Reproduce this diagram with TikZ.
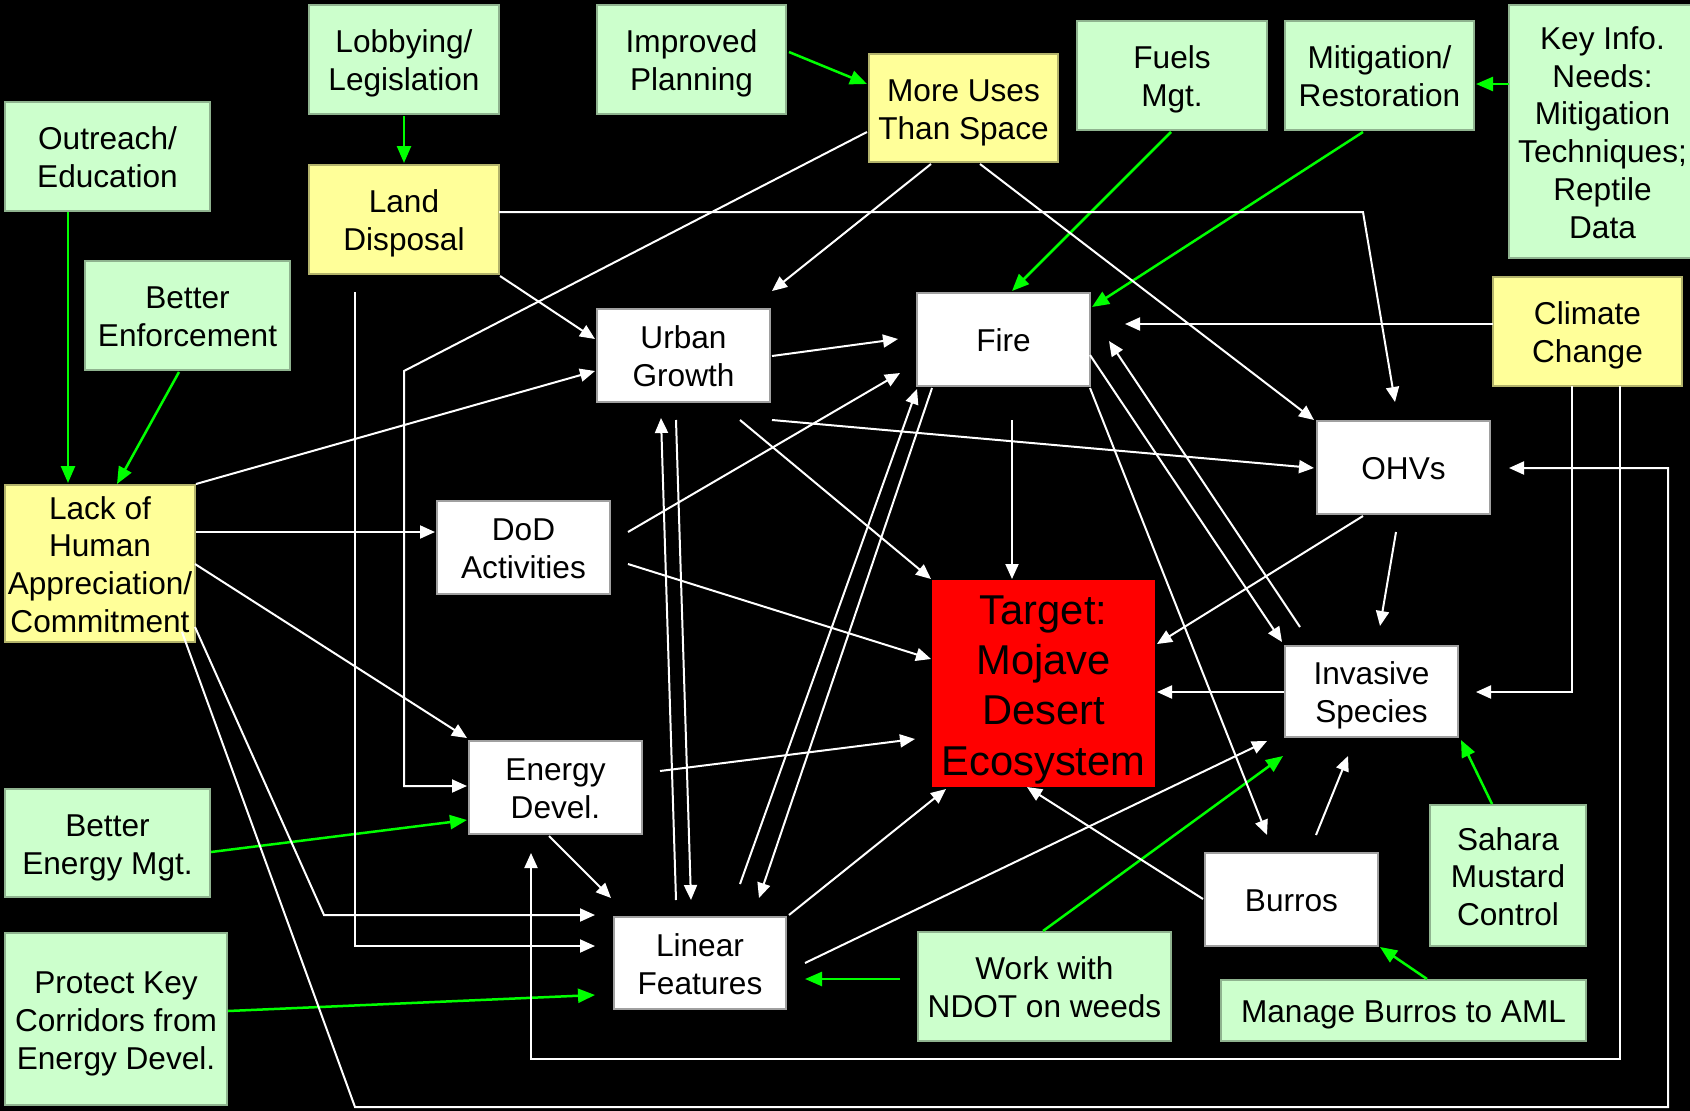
\documentclass[tikz,border=0pt]{standalone}
\usepackage{fontspec}
\setmainfont{Liberation Sans}
\usetikzlibrary{arrows.meta}
\definecolor{gfill}{HTML}{CCFFCC}
\definecolor{yfill}{HTML}{FFFF99}
\definecolor{rfill}{HTML}{FF0000}
\definecolor{garrow}{HTML}{00FF00}
\definecolor{gborder}{HTML}{8FB38F}
\definecolor{yborder}{HTML}{B3B36B}
\definecolor{wborder}{HTML}{A0A0A0}
\newcommand{\tstr}{\rule{0pt}{0.99em}}
\newcommand{\bstr}{\rule[-0.21em]{0pt}{0pt}}
\begin{document}
\begin{tikzpicture}[x=1pt,y=-1pt,
 base/.style={inner sep=0pt,outer sep=0pt,anchor=north west,align=center,line width=1.2pt,text=black,font=\fontsize{31.6}{37.8}\selectfont},
 gbox/.style={base,fill=gfill,draw=gborder},
 ybox/.style={base,fill=yfill,draw=yborder},
 wbox/.style={base,fill=white,draw=wborder,minimum width=173pt,minimum height=93pt},
 rbox/.style={base,fill=rfill,draw=rfill,font=\fontsize{41.7}{50.2}\selectfont},
 wa/.style={draw=white,line width=2pt,-{Triangle[length=15pt,width=13pt]}},
 ga/.style={draw=garrow,line width=2.5pt,-{Triangle[length=17pt,width=14pt]}}]
\fill[black] (0,0) rectangle (1690,1111);
\useasboundingbox (0,0) rectangle (1690,1111);

% nodes
\node[gbox,minimum width=190pt,minimum height=109pt] (lobby) at (309,5) {\tstr Lobbying/\\Legislation\bstr};
\node[gbox,minimum width=189pt,minimum height=109pt] (improved) at (597,5) {\tstr Improved\\Planning\bstr};
\node[gbox,minimum width=205pt,minimum height=109pt] (outreach) at (5,102) {\tstr Outreach/\\Education\bstr};
\node[ybox,minimum width=190pt,minimum height=109pt] (land) at (309,165) {\tstr Land\\Disposal\bstr};
\node[gbox,minimum width=205pt,minimum height=109pt] (enforce) at (85,261) {\tstr Better\\Enforcement\bstr};
\node[ybox,minimum width=189pt,minimum height=108pt] (moreuses) at (869,54) {\tstr More Uses\\Than Space\bstr};
\node[gbox,minimum width=190pt,minimum height=109pt] (fuels) at (1077,21) {\tstr Fuels\\Mgt.\bstr};
\node[gbox,minimum width=189pt,minimum height=109pt] (mitig) at (1285,21) {\tstr Mitigation/\\Restoration\bstr};
\node[gbox,minimum width=187pt,minimum height=253pt] (keyinfo) at (1509,5) {\tstr Key Info.\\Needs:\\Mitigation\\Techniques;\\Reptile\\Data\bstr};
\node[ybox,minimum width=189pt,minimum height=109pt] (climate) at (1493,277) {\tstr Climate\\Change\bstr};
\node[wbox] (urban) at (597,309) {\tstr Urban\\Growth\bstr};
\node[wbox] (fire) at (917,293) {\tstr Fire\bstr};
\node[wbox] (ohvs) at (1317,421) {\tstr OHVs\bstr};
\node[ybox,minimum width=190pt,minimum height=157pt] (lack) at (5,485) {\tstr Lack of\\Human\\Appreciation/\\Commitment\bstr};
\node[wbox] (dod) at (437,501) {\tstr DoD\\Activities\bstr};
\node[rbox,minimum width=221pt,minimum height=205pt] (target) at (933,581) {\tstr Target:\\Mojave\\Desert\\Ecosystem\bstr};
\node[wbox,minimum height=91pt] (invasive) at (1285,646) {\tstr Invasive\\Species\bstr};
\node[wbox] (energy) at (469,741) {\tstr Energy\\Devel.\bstr};
\node[gbox,minimum width=205pt,minimum height=108pt] (bettere) at (5,789) {\tstr Better\\Energy Mgt.\bstr};
\node[gbox,minimum width=156pt,minimum height=141pt] (sahara) at (1430,805) {\tstr Sahara\\Mustard\\Control\bstr};
\node[wbox] (burros) at (1205,853) {\tstr Burros\bstr};
\node[wbox,minimum width=172pt,minimum height=92pt] (linear) at (614,917) {\tstr Linear\\Features\bstr};
\node[gbox,minimum width=253pt,minimum height=109pt] (ndot) at (918,932) {\tstr Work with\\NDOT on weeds\bstr};
\node[gbox,minimum width=222pt,minimum height=172pt] (protect) at (5,933) {\tstr Protect Key\\Corridors from\\Energy Devel.\bstr};
\node[gbox,minimum width=365pt,minimum height=61pt] (manage) at (1221,980) {\tstr Manage Burros to AML\bstr};

% bend points
\coordinate (c1) at (404,371);
\coordinate (d1) at (1363,212);
\coordinate (j1) at (324,915);
\coordinate (k1) at (355,1107);
\coordinate (k2) at (1668,1107);
\coordinate (l1) at (1620,1059);

% green connectors
\draw[ga] ([shift={(0,2)}]lobby.south) -- ([shift={(0,-2)}]land.north);
\draw[ga] ([shift={(192,47)}]improved.north west) -- ([shift={(-2,30)}]moreuses.north west);
\draw[ga] ([shift={(63,110)}]outreach.north west) -- ([shift={(63,-2)}]lack.north west);
\draw[ga] ([shift={(94,111)}]enforce.north west) -- ([shift={(112,-1)}]lack.north west);
\draw[ga] ([shift={(94,111)}]fuels.north west) -- ([shift={(95,-2)}]fire.north west);
\draw[ga] ([shift={(78,111)}]mitig.north west) -- ([shift={(175,14)}]fire.north west);
\draw[ga] ([shift={(0,79)}]keyinfo.north west) -- ([shift={(191,63)}]mitig.north west);
\draw[ga] ([shift={(206,63)}]bettere.north west) -- ([shift={(-2,79)}]energy.north west);
\draw[ga] ([shift={(223,78)}]protect.north west) -- ([shift={(-19,78)}]linear.north west);
\draw[ga] ([shift={(-18,47)}]ndot.north west) -- ([shift={(191,62)}]linear.north west);
\draw[ga] ([shift={(125,-1)}]ndot.north west) -- ([shift={(-2,110)}]invasive.north west);
\draw[ga] ([shift={(206,-1)}]manage.north west) -- ([shift={(175,94)}]burros.north west);
\draw[ga] ([shift={(62,-1)}]sahara.north west) -- ([shift={(176,94)}]invasive.north west);

% white connectors
\draw[wa] ([shift={(62,110)}]moreuses.north west) -- ([shift={(175,-18)}]urban.north west);
\draw[wa] ([shift={(111,110)}]moreuses.north west) -- ([shift={(-3,-1)}]ohvs.north west);
\draw[wa] ([shift={(-2,78)}]moreuses.north west) -- (c1) |- ([shift={(-2,45)}]energy.north west);
\draw[wa] ([shift={(190,47)}]land.north west) -- (d1) -- ([shift={(78,-19)}]ohvs.north west);
\draw[wa] ([shift={(191,111)}]land.north west) -- ([shift={(-2,30)}]urban.north west);
\draw[wa] ([shift={(46,127)}]land.north west) |- ([shift={(-19,29)}]linear.north west);
\draw[wa] ([shift={(191,-1)}]lack.north west) -- ([shift={(-2,62)}]urban.north west);
\draw[wa] ([shift={(191,47)}]lack.north west) -- ([shift={(-2,31)}]dod.north west);
\draw[wa] ([shift={(190,79)}]lack.north west) -- ([shift={(-2,-3)}]energy.north west);
\draw[wa] ([shift={(190,142)}]lack.north west) -- (j1) -- ([shift={(-19,-2)}]linear.north west);
\draw[wa] ([shift={(177,147)}]lack.north west) -- (k1) -- (k2) |- ([shift={(192,47)}]ohvs.north west);
\draw[wa] ([shift={(127,109)}]climate.north west) -- (l1) -| ([shift={(62,112)}]energy.north west);
\draw[wa] ([shift={(79,109)}]climate.north west) |- ([shift={(191,46)}]invasive.north west);
\draw[wa] ([shift={(0,47)}]climate.north west) -- ([shift={(208,31)}]fire.north west);
\draw[wa] ([shift={(175,47)}]urban.north west) -- ([shift={(-19,46)}]fire.north west);
\draw[wa] ([shift={(175,111)}]urban.north west) -- ([shift={(-3,47)}]ohvs.north west);
\draw[wa] ([shift={(143,111)}]urban.north west) -- ([shift={(-2,-2)}]target.north west);
\draw[wa] ([shift={(62,-17)}]linear.north west) -- ([shift={(64,109)}]urban.north west);
\draw[wa] ([shift={(79,111)}]urban.north west) -- ([shift={(77,-17)}]linear.north west);
\draw[wa] ([shift={(95,127)}]fire.north west) -- ([shift={(79,-2)}]target.north west);
\draw[wa] ([shift={(126,-33)}]linear.north west) -- ([shift={(0,96)}]fire.north west);
\draw[wa] ([shift={(15,95)}]fire.north west) -- ([shift={(145,-19)}]linear.north west);
\draw[wa] ([shift={(173,62)}]fire.north west) -- ([shift={(-3,-4)}]invasive.north west);
\draw[wa] ([shift={(15,-19)}]invasive.north west) -- ([shift={(192,48)}]fire.north west);
\draw[wa] ([shift={(173,95)}]fire.north west) -- ([shift={(62,-18)}]burros.north west);
\draw[wa] ([shift={(191,31)}]dod.north west) -- ([shift={(-17,80)}]fire.north west);
\draw[wa] ([shift={(191,63)}]dod.north west) -- ([shift={(-2,78)}]target.north west);
\draw[wa] ([shift={(80,95)}]energy.north west) -- ([shift={(-3,-19)}]linear.north west);
\draw[wa] ([shift={(191,30)}]energy.north west) -- ([shift={(-18,158)}]target.north west);
\draw[wa] ([shift={(175,-2)}]linear.north west) -- ([shift={(13,208)}]target.north west);
\draw[wa] ([shift={(191,46)}]linear.north west) -- ([shift={(-18,95)}]invasive.north west);
\draw[wa] ([shift={(46,95)}]ohvs.north west) -- ([shift={(224,63)}]target.north west);
\draw[wa] ([shift={(79,111)}]ohvs.north west) -- ([shift={(95,-20)}]invasive.north west);
\draw[wa] ([shift={(-1,46)}]invasive.north west) -- ([shift={(224,111)}]target.north west);
\draw[wa] ([shift={(-2,46)}]burros.north west) -- ([shift={(94,206)}]target.north west);
\draw[wa] ([shift={(111,-18)}]burros.north west) -- ([shift={(63,110)}]invasive.north west);
\end{tikzpicture}
\end{document}
